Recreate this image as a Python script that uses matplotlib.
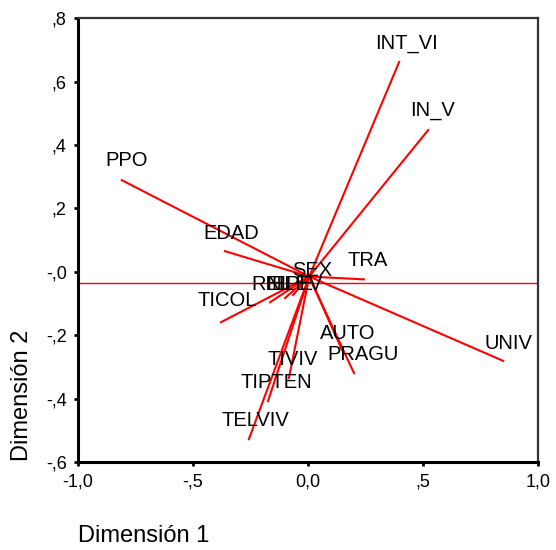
import matplotlib
matplotlib.use('Agg')
import matplotlib.pyplot as plt

# component loadings (dimension 1, dimension 2)
variables = ['INT_VI', 'IN_V', 'TRA', 'UNIV', 'PRAGU', 'AUTO', 'PPO', 'EDAD', 'TICOL',
             'TELVIV', 'TIPTEN', 'TIVIV', 'REL', 'NIPE', 'ELEV', 'SEX']
dim1 = [0.396, 0.522, 0.243, 0.848, 0.200, 0.148, -0.809, -0.361, -0.378,
        -0.257, -0.174, -0.083, -0.165, -0.100, -0.065, 0.020]
dim2 = [0.662, 0.447, -0.024, -0.281, -0.320, -0.247, 0.289, 0.065, -0.159,
        -0.528, -0.408, -0.335, -0.096, -0.083, -0.073, 0.000]
# label positions
lab_x = [0.426, 0.540, 0.257, 0.870, 0.239, 0.174, -0.787, -0.335, -0.352,
         -0.230, -0.139, -0.065, -0.161, -0.080, -0.050, 0.017]
lab_y = [0.721, 0.510, 0.034, -0.225, -0.260, -0.196, 0.352, 0.122, -0.092,
         -0.468, -0.348, -0.276, -0.040, -0.040, -0.040, 0.005]
origin = (0.005, -0.015)
ref_y = -0.036

x_ticks = [-1.0, -0.5, 0.0, 0.5, 1.0]
x_labels = ['-1,0', '-,5', '0,0', ',5', '1,0']
y_ticks = [-0.6, -0.4, -0.2, 0.0, 0.2, 0.4, 0.6, 0.8]
y_labels = ['-,6', '-,4', '-,2', '-,0', ',2', ',4', ',6', ',8']

plt.rcParams['font.family'] = ['Liberation Sans', 'DejaVu Sans']

fig = plt.figure(figsize=(5.56, 5.5), dpi=100)
ax = fig.add_axes([0.140, 0.160, 0.828, 0.807])
ax.set_xlim(-1.0, 1.0)
ax.set_ylim(-0.6, 0.8)

ax.axhline(ref_y, color='red', linewidth=1.0, zorder=1)
for i, name in enumerate(variables):
    ax.plot([origin[0], dim1[i]], [origin[1], dim2[i]], color='red', linewidth=1.5, zorder=2)
    ax.text(lab_x[i], lab_y[i], name, fontsize=14.5, ha='center', va='center', color='black', zorder=3)

ax.set_xticks(x_ticks)
ax.set_xticklabels(x_labels, fontsize=13)
ax.set_yticks(y_ticks)
ax.set_yticklabels(y_labels, fontsize=13)
ax.tick_params(axis='both', direction='out', length=3, width=2, color='black', pad=5)

for side in ['left', 'bottom']:
    ax.spines[side].set_linewidth(2.2)
    ax.spines[side].set_color('black')
for side in ['top', 'right']:
    ax.spines[side].set_linewidth(1.6)
    ax.spines[side].set_color('#333333')

fig.text(0.140, 0.026, 'Dimensión 1', fontsize=17, ha='left', va='center')
fig.text(0.04, 0.282, 'Dimensión 2', fontsize=17, ha='center', va='center', rotation=90)

plt.savefig('out.png', dpi=100)
